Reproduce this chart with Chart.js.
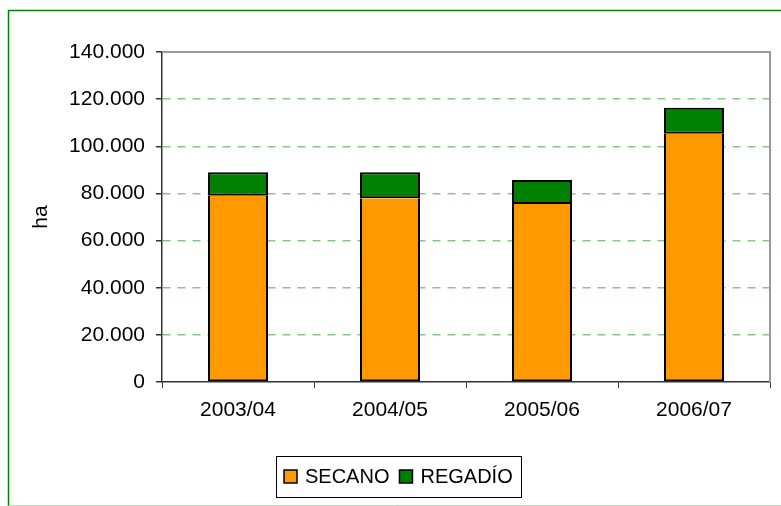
<!DOCTYPE html>
<html>
<head>
<meta charset="utf-8">
<script src="https://cdn.jsdelivr.net/npm/chart.js@4/dist/chart.umd.min.js"></script>
<style>
    html, body { margin: 0; padding: 0; background: #ffffff; }
    #wrap { position: relative; width: 781px; height: 506px; }
</style>
</head>
<body>
<div id="wrap"><canvas id="haChart" width="781" height="506"></canvas></div>
<script>
const campaigns = ['2003/04', '2004/05', '2005/06', '2006/07'];
const secano = [79000, 78000, 75500, 105300];
const regadio = [10000, 11000, 10200, 11000];
const yTicks = [0, 20000, 40000, 60000, 80000, 100000, 120000, 140000];

const FONT = "'Liberation Sans', Arial, sans-serif";

function fmt(v) {
    return v === 0 ? '0' : v.toLocaleString('de-DE');
}

// gray frame on top/right of plot, outer green frame, boxed legend
const framePlugin = {
    id: 'frame',
    beforeDraw(chart) {
        const ctx = chart.ctx;
        ctx.save();
        ctx.fillStyle = '#ffffff';
        ctx.fillRect(0, 0, chart.width, chart.height);
        ctx.strokeStyle = '#008000';
        ctx.lineWidth = 1.5;
        ctx.beginPath();
        ctx.moveTo(8.5, 506);
        ctx.lineTo(8.5, 10.5);
        ctx.lineTo(781, 10.5);
        ctx.stroke();
        ctx.strokeStyle = '#b8dcb8';
        ctx.lineWidth = 1;
        ctx.beginPath();
        ctx.moveTo(8.5, 505.5);
        ctx.lineTo(781, 505.5);
        ctx.stroke();
        ctx.restore();
    },
    afterDatasetsDraw(chart) {
        const ctx = chart.ctx;
        const a = chart.chartArea;
        ctx.save();
        ctx.strokeStyle = '#999999';
        ctx.lineWidth = 2;
        ctx.beginPath();
        ctx.moveTo(a.left, a.top);
        ctx.lineTo(a.right, a.top);
        ctx.lineTo(a.right, a.bottom);
        ctx.stroke();
        ctx.restore();
    },
    afterDraw(chart) {
        const ctx = chart.ctx;
        ctx.save();
        ctx.strokeStyle = '#000000';
        ctx.lineWidth = 1;
        ctx.strokeRect(276.5, 456.5, 245, 41);
        ctx.font = '20px ' + FONT;
        ctx.textBaseline = 'middle';
        ctx.fillStyle = '#000000';
        let x = 284;
        chart.data.datasets.forEach(ds => {
            ctx.fillStyle = ds.backgroundColor;
            ctx.fillRect(x, 470, 13, 13);
            ctx.strokeStyle = '#000000';
            ctx.lineWidth = 1.5;
            ctx.strokeRect(x, 470, 13, 13);
            ctx.fillStyle = '#000000';
            ctx.fillText(ds.label, x + 21, 477);
            x += 21 + ctx.measureText(ds.label).width + 10;
        });
        ctx.restore();
    }
};

new Chart(document.getElementById('haChart'), {
    type: 'bar',
    data: {
        labels: campaigns,
        datasets: [
            {
                label: 'SECANO',
                data: secano,
                backgroundColor: '#FF9900',
                borderColor: '#000000',
                borderWidth: 2,
                borderSkipped: 'top'
            },
            {
                label: 'REGADÍO',
                data: regadio,
                backgroundColor: '#008000',
                borderColor: '#000000',
                borderWidth: 2,
                borderSkipped: false
            }
        ]
    },
    options: {
        responsive: false,
        animation: false,
        layout: { padding: { top: 52, left: 0, right: 11, bottom: 74 } },
        datasets: {
            bar: { categoryPercentage: 1, barPercentage: 0.395 }
        },
        plugins: {
            legend: { display: false },
            tooltip: { enabled: false }
        },
        scales: {
            x: {
                stacked: true,
                afterFit(scale) { scale.height = 50; },
                grid: {
                    drawOnChartArea: false,
                    color: '#333333',
                    tickLength: 6
                },
                border: { color: '#333333', width: 1.5 },
                ticks: {
                    color: '#000000',
                    padding: 10,
                    font: { family: FONT, size: 21 }
                }
            },
            y: {
                stacked: true,
                min: 0,
                max: 140000,
                afterFit(scale) { scale.width = 162; },
                afterBuildTicks(scale) {
                    scale.ticks = yTicks.map(v => ({ value: v }));
                },
                grid: {
                    color: ctx => (ctx.tick && (ctx.tick.value === 0 || ctx.tick.value === 140000)) ? 'rgba(0,0,0,0)' : 'rgba(60,160,60,0.6)',
                    lineWidth: 1.5,
                    tickColor: '#333333',
                    tickLength: 6
                },
                border: { color: '#333333', width: 1.5, dash: [8, 7] },
                ticks: {
                    color: '#000000',
                    padding: 11,
                    font: { family: FONT, size: 21 },
                    callback: v => fmt(v)
                },
                title: {
                    display: true,
                    text: 'ha',
                    color: '#000000',
                    font: { family: FONT, size: 21 },
                    padding: { top: 29, bottom: 0 }
                }
            }
        }
    },
    plugins: [framePlugin]
});
</script>
</body>
</html>
